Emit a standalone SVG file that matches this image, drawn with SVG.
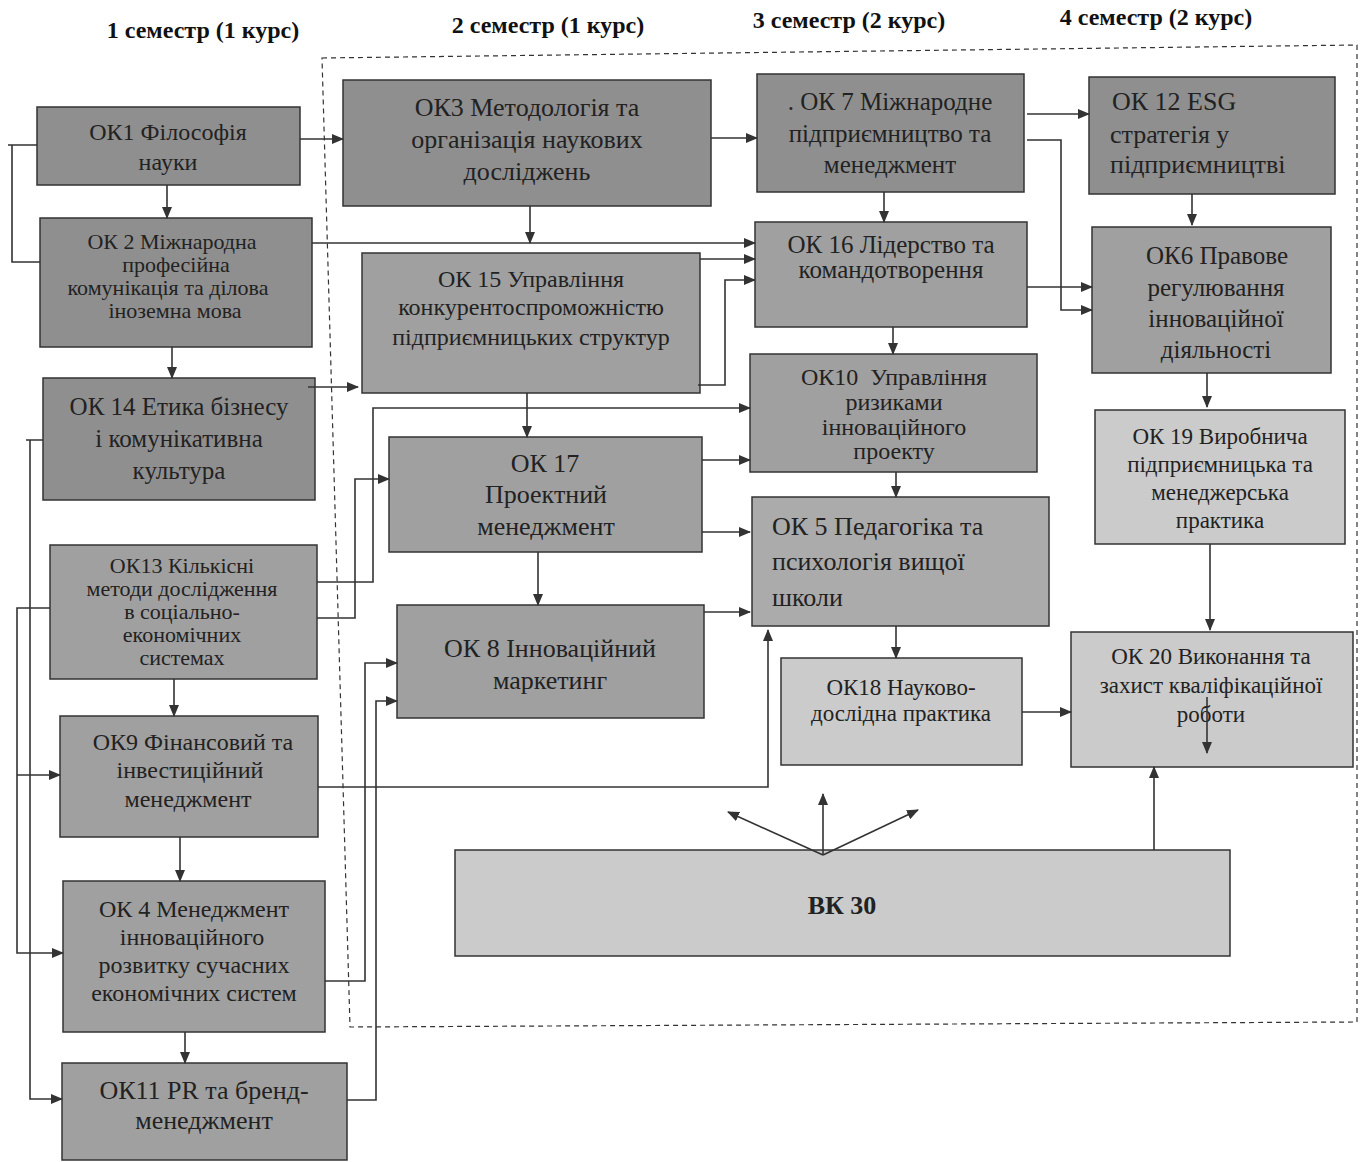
<svg xmlns="http://www.w3.org/2000/svg" width="1365" height="1162" viewBox="0 0 1365 1162">
<style>
.bx{stroke:#333;stroke-width:1.5}
.d{fill:#8f8f8f}.m{fill:#a0a0a0}.n{fill:#ababab}.l{fill:#cbcbcb}
text{font-family:"Liberation Serif","Times New Roman",serif;fill:#222}
.c{text-anchor:middle}
.h{font-weight:bold;font-size:24px;text-anchor:middle;fill:#111}
.cn path{fill:none;stroke:#333;stroke-width:1.6}
.ar{marker-end:url(#a)}
</style>
<defs>
<marker id="a" markerWidth="12" markerHeight="10" refX="11" refY="5" orient="auto" markerUnits="userSpaceOnUse">
<path d="M0,0 L12,5 L0,10 z" fill="#333"/>
</marker>
</defs>
<rect width="1365" height="1162" fill="#fff"/>
<g id="headers">
<text class="h" x="203" y="38">1 семестр (1 курс)</text>
<text class="h" x="548" y="33">2 семестр (1 курс)</text>
<text class="h" x="849" y="28">3 семестр (2 курс)</text>
<text class="h" x="1156" y="25">4 семестр (2 курс)</text>
</g>
<polygon id="frame" points="322,58 1357,45 1357,1022 350,1027" fill="none" stroke="#333" stroke-width="1.2" stroke-dasharray="5,4"/>
<g id="ok1"><rect class="bx d" x="37" y="107" width="263" height="78"/>
<text class="c" x="168" y="140" font-size="24">ОК1 Філософія</text><text class="c" x="168" y="170" font-size="24">науки</text></g>
<g id="ok2"><rect class="bx d" x="40" y="218" width="272" height="129"/>
<text class="c" x="172" y="249" font-size="22">ОК 2 Міжнародна</text><text class="c" x="176" y="272" font-size="22">професійна</text><text class="c" x="168" y="295" font-size="22">комунікація та ділова</text><text class="c" x="175" y="318" font-size="22">іноземна мова</text></g>
<g id="ok14"><rect class="bx d" x="43" y="378" width="272" height="122"/>
<text class="c" x="179" y="415" font-size="25">ОК 14 Етика бізнесу</text><text class="c" x="179" y="447" font-size="25">і комунікативна</text><text class="c" x="179" y="479" font-size="25">культура</text></g>
<g id="ok13"><rect class="bx m" x="50" y="545" width="267" height="134"/>
<text class="c" x="182" y="573" font-size="22">ОК13 Кількісні</text><text class="c" x="182" y="596" font-size="22">методи дослідження</text><text class="c" x="182" y="619" font-size="22">в соціально-</text><text class="c" x="182" y="642" font-size="22">економічних</text><text class="c" x="182" y="665" font-size="22">системах</text></g>
<g id="ok9"><rect class="bx m" x="60" y="716" width="258" height="121"/>
<text class="c" x="193" y="750" font-size="24">ОК9 Фінансовий та</text><text class="c" x="190" y="778" font-size="24">інвестиційний</text><text class="c" x="188" y="807" font-size="24">менеджмент</text></g>
<g id="ok4"><rect class="bx m" x="63" y="881" width="262" height="151"/>
<text class="c" x="194" y="917" font-size="24">ОК 4 Менеджмент</text><text class="c" x="192" y="945" font-size="24">інноваційного</text><text class="c" x="194" y="973" font-size="24">розвитку сучасних</text><text class="c" x="194" y="1001" font-size="24">економічних систем</text></g>
<g id="ok11"><rect class="bx m" x="62" y="1063" width="285" height="97"/>
<text class="c" x="204" y="1099" font-size="26">ОК11 PR та бренд-</text><text class="c" x="204" y="1129" font-size="26">менеджмент</text></g>
<g id="ok3"><rect class="bx d" x="343" y="80" width="368" height="126"/>
<text class="c" x="527" y="116" font-size="26">ОК3 Методологія та</text><text class="c" x="527" y="148" font-size="26">організація наукових</text><text class="c" x="527" y="180" font-size="26">досліджень</text></g>
<g id="ok15"><rect class="bx m" x="362" y="253" width="338" height="140"/>
<text class="c" x="531" y="287" font-size="24">ОК 15 Управління</text><text class="c" x="531" y="315" font-size="24">конкурентоспроможністю</text><text class="c" x="531" y="345" font-size="24">підприємницьких структур</text></g>
<g id="ok17"><rect class="bx m" x="389" y="437" width="313" height="115"/>
<text class="c" x="545" y="472" font-size="26">ОК 17</text><text class="c" x="546" y="503" font-size="26">Проектний</text><text class="c" x="546" y="535" font-size="26">менеджмент</text></g>
<g id="ok8"><rect class="bx m" x="397" y="605" width="307" height="113"/>
<text class="c" x="550" y="657" font-size="26">ОК 8 Інноваційний</text><text class="c" x="550" y="689" font-size="26">маркетинг</text></g>
<g id="ok7"><rect class="bx d" x="757" y="74" width="267" height="118"/>
<text class="c" x="890" y="110" font-size="25">. ОК 7 Міжнародне</text><text class="c" x="890" y="142" font-size="25">підприємництво та</text><text class="c" x="890" y="173" font-size="25">менеджмент</text></g>
<g id="ok16"><rect class="bx m" x="755" y="222" width="272" height="105"/>
<text class="c" x="891" y="253" font-size="25">ОК 16 Лідерство та</text><text class="c" x="891" y="278" font-size="25">командотворення</text></g>
<g id="ok10"><rect class="bx m" x="750" y="354" width="287" height="118"/>
<text class="c" x="894" y="385" font-size="24" xml:space="preserve">ОК10  Управління</text><text class="c" x="894" y="410" font-size="24">ризиками</text><text class="c" x="894" y="435" font-size="24">інноваційного</text><text class="c" x="894" y="459" font-size="24">проекту</text></g>
<g id="ok5"><rect class="bx n" x="752" y="497" width="297" height="129"/>
<text x="772" y="535" font-size="26">ОК 5 Педагогіка та</text><text x="772" y="570" font-size="26">психологія вищої</text><text x="772" y="606" font-size="26">школи</text></g>
<g id="ok18"><rect class="bx l" x="781" y="658" width="241" height="107"/>
<text class="c" x="901" y="695" font-size="23">ОК18 Науково-</text><text class="c" x="901" y="721" font-size="23">дослідна практика</text></g>
<g id="ok12"><rect class="bx d" x="1089" y="77" width="246" height="117"/>
<text x="1112" y="110" font-size="26">ОК 12 ESG</text><text x="1110" y="143" font-size="26">стратегія у</text><text x="1110" y="173" font-size="26">підприємництві</text></g>
<g id="ok6"><rect class="bx m" x="1092" y="227" width="239" height="146"/>
<text class="c" x="1217" y="264" font-size="25">ОК6 Правове</text><text class="c" x="1216" y="296" font-size="25">регулювання</text><text class="c" x="1216" y="327" font-size="25">інноваційної</text><text class="c" x="1216" y="358" font-size="25">діяльності</text></g>
<g id="ok19"><rect class="bx l" x="1095" y="410" width="250" height="134"/>
<text class="c" x="1220" y="444" font-size="23">ОК 19 Виробнича</text><text class="c" x="1220" y="472" font-size="23">підприємницька та</text><text class="c" x="1220" y="500" font-size="23">менеджерська</text><text class="c" x="1220" y="528" font-size="23">практика</text></g>
<g id="ok20"><rect class="bx l" x="1071" y="632" width="282" height="135"/>
<text class="c" x="1211" y="664" font-size="23">ОК 20 Виконання та</text><text class="c" x="1211" y="693" font-size="23">захист кваліфікаційної</text><text class="c" x="1211" y="722" font-size="23">роботи</text></g>
<g id="vk30"><rect class="bx l" x="455" y="850" width="775" height="106"/>
<text class="c" x="842" y="914" font-size="26" font-weight="bold">ВК 30</text></g>
<g id="connectors" class="cn">
<path d="M37,145 H8 M12,145 V262 H40"/>
<path class="ar" d="M300,139 H343"/>
<path class="ar" d="M167,185 V218"/>
<path class="ar" d="M312,243 H755"/>
<path class="ar" d="M530,206 V243"/>
<path class="ar" d="M172,347 V378"/>
<path class="ar" d="M308,387 H358"/>
<path class="ar" d="M43,440 H26 M30,440 V1099 H62"/>
<path class="ar" d="M50,608 H17 V953 H63"/>
<path class="ar" d="M17,775 H60"/>
<path class="ar" d="M174,679 V716"/>
<path class="ar" d="M180,837 V881"/>
<path class="ar" d="M185,1032 V1063"/>
<path class="ar" d="M317,582 H373 V408 H750"/>
<path class="ar" d="M317,618 H355 V479 H389"/>
<path class="ar" d="M527,393 V437"/>
<path class="ar" d="M700,259 H755"/>
<path class="ar" d="M698,385 H725 V280 H755"/>
<path class="ar" d="M711,138 H757"/>
<path class="ar" d="M884,192 V222"/>
<path class="ar" d="M1027,114 H1089"/>
<path class="ar" d="M1027,140 H1061 V310 H1092"/>
<path class="ar" d="M1027,287 H1092"/>
<path class="ar" d="M893,327 V354"/>
<path class="ar" d="M1192,194 V225"/>
<path class="ar" d="M1207,373 V407"/>
<path class="ar" d="M702,460 H750"/>
<path class="ar" d="M702,532 H750"/>
<path class="ar" d="M896,472 V497"/>
<path class="ar" d="M538,552 V605"/>
<path class="ar" d="M704,612 H750"/>
<path class="ar" d="M325,981 H365 V663 H397"/>
<path class="ar" d="M347,1100 H376 V701 H397"/>
<path class="ar" d="M318,787 H768 V630"/>
<path class="ar" d="M896,626 V658"/>
<path class="ar" d="M1022,712 H1071"/>
<path class="ar" d="M1210,544 V630"/>
<path class="ar" d="M1207,697 V753"/>
<path class="ar" d="M1154,850 V767"/>
<path class="ar" d="M823,855 L728,812"/>
<path class="ar" d="M823,855 V794"/>
<path class="ar" d="M823,855 L918,810"/>
</g>
</svg>
